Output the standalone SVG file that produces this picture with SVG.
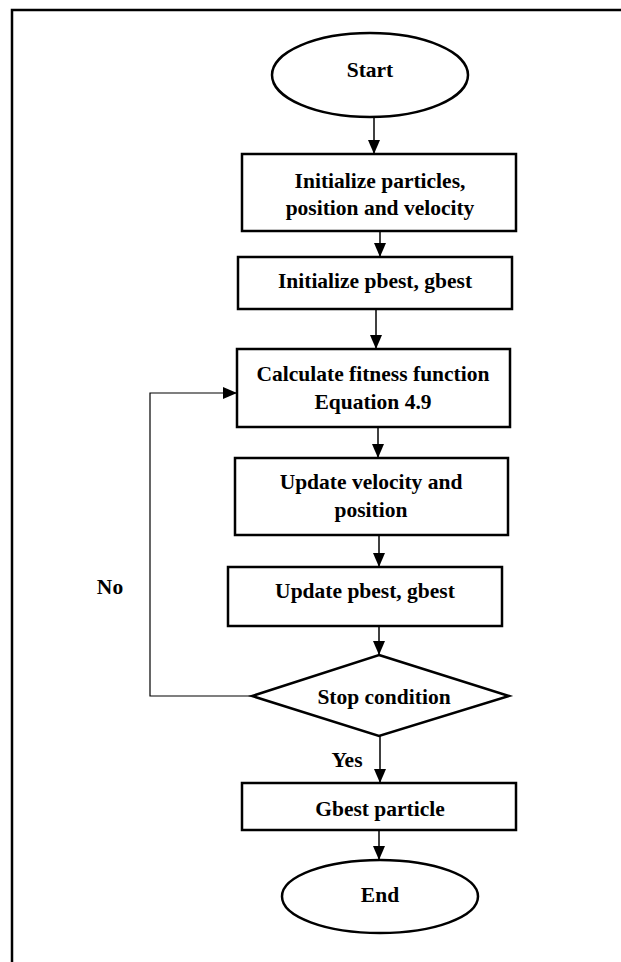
<svg xmlns="http://www.w3.org/2000/svg" width="621" height="962" viewBox="0 0 621 962">
  <style>
    .shape { fill: #ffffff; stroke: #000000; stroke-width: 2.5; }
    .frame { fill: none; stroke: #000000; stroke-width: 2.5; }
    .flow { fill: none; stroke: #000000; stroke-width: 1.5; }
    .loop { fill: none; stroke: #000000; stroke-width: 1.2; }
    text { font-family: "Liberation Serif", "Times New Roman", serif; font-weight: bold; font-size: 21.5px; fill: #000000; text-anchor: middle; }
  </style>
  <defs>
    <marker id="arrow" viewBox="0 0 14 12" refX="14" refY="6" markerWidth="14" markerHeight="12" markerUnits="userSpaceOnUse" orient="auto">
      <path d="M0,0 L14,6 L0,12 Z" fill="#000000"/>
    </marker>
  </defs>

  <rect width="621" height="962" fill="#ffffff"/>

  <!-- page frame: top and left edges -->
  <path class="frame" d="M12,962 V10 H621"/>

  <!-- connectors -->
  <g id="connectors">
    <line class="flow" x1="374" y1="117" x2="374" y2="154" marker-end="url(#arrow)"/>
    <line class="flow" x1="380" y1="231" x2="380" y2="257" marker-end="url(#arrow)"/>
    <line class="flow" x1="376" y1="309" x2="376" y2="349" marker-end="url(#arrow)"/>
    <line class="flow" x1="378" y1="427" x2="378" y2="458" marker-end="url(#arrow)"/>
    <line class="flow" x1="379" y1="535" x2="379" y2="567" marker-end="url(#arrow)"/>
    <line class="flow" x1="379" y1="626" x2="379" y2="655" marker-end="url(#arrow)"/>
    <polyline class="loop" points="252,696 150,696 150,393 237,393" marker-end="url(#arrow)"/>
    <line class="flow" x1="380" y1="736" x2="380" y2="783" marker-end="url(#arrow)"/>
    <line class="flow" x1="379" y1="830" x2="379" y2="860" marker-end="url(#arrow)"/>
    <text x="110" y="594">No</text>
    <text x="347" y="767">Yes</text>
  </g>

  <g id="start">
    <ellipse class="shape" cx="370" cy="75" rx="98" ry="42"/>
    <text x="370" y="77">Start</text>
  </g>

  <g id="init-particles">
    <rect class="shape" x="242" y="154" width="274" height="77"/>
    <text x="380" y="188">Initialize particles,</text>
    <text x="380" y="215">position and velocity</text>
  </g>

  <g id="init-best">
    <rect class="shape" x="238" y="257" width="274" height="52"/>
    <text x="375" y="288">Initialize pbest, gbest</text>
  </g>

  <g id="fitness">
    <rect class="shape" x="237" y="349" width="273" height="78"/>
    <text x="373" y="381">Calculate fitness function</text>
    <text x="373" y="409">Equation 4.9</text>
  </g>

  <g id="update-velocity">
    <rect class="shape" x="235" y="458" width="273" height="77"/>
    <text x="371" y="489">Update velocity and</text>
    <text x="371" y="517">position</text>
  </g>

  <g id="update-best">
    <rect class="shape" x="228" y="567" width="274" height="59"/>
    <text x="365" y="598">Update pbest, gbest</text>
  </g>

  <g id="stop">
    <polygon class="shape" points="379,655 509,696 379,736 252,696"/>
    <text x="384" y="704">Stop condition</text>
  </g>

  <g id="gbest">
    <rect class="shape" x="242" y="783" width="274" height="47"/>
    <text x="380" y="816">Gbest particle</text>
  </g>

  <g id="end">
    <ellipse class="shape" cx="380" cy="896.5" rx="98" ry="36.5"/>
    <text x="380" y="902">End</text>
  </g>
</svg>
